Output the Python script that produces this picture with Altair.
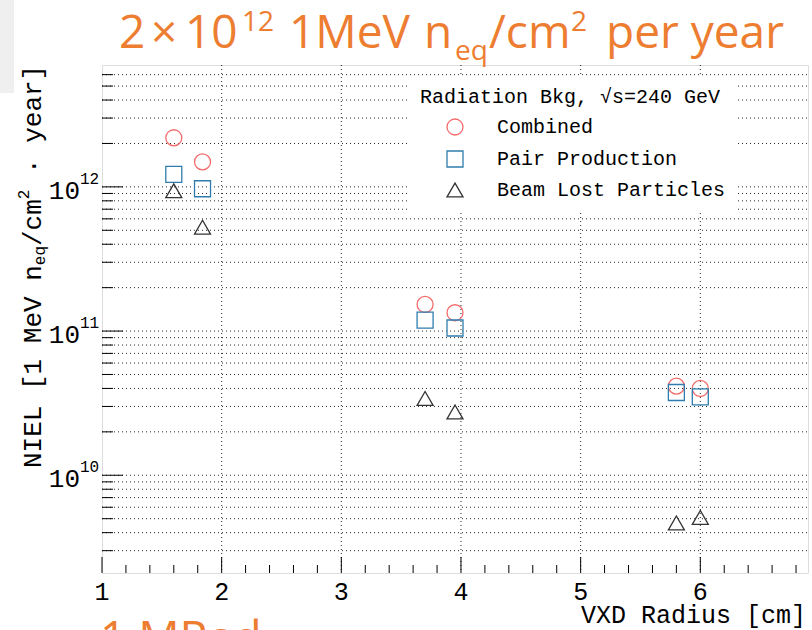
import altair as alt
import pandas as pd

# ---------------- data ----------------
radius = [1.6, 1.84, 3.7, 3.95, 5.8, 6.0]
combined = [2.19e12, 1.49e12, 1.53e11, 1.34e11, 4.15e10, 4.0e10]
pair_production = [1.22e12, 0.97e12, 1.19e11, 1.05e11, 3.75e10, 3.5e10]
beam_lost = [0.94e12, 5.25e11, 3.41e10, 2.75e10, 4.67e9, 5.1e9]

series_names = ["Combined", "Pair Production", "Beam Lost Particles"]
series_shapes = ["circle", "square", "triangle-up"]
series_colors = ["#F46B6B", "#2E7DAE", "#333333"]

x_major = [1, 2, 3, 4, 5, 6]
x_labels = ["1", "2", "3", "4", "5", "6"]
x_grid = [2, 3, 4, 5, 6]
x_minor = [1.2, 1.4, 1.6, 1.8, 2.2, 2.4, 2.6, 2.8, 3.2, 3.4, 3.6, 3.8,
           4.2, 4.4, 4.6, 4.8, 5.2, 5.4, 5.6, 5.8, 6.2, 6.4, 6.6, 6.8]
y_decades = [1e10, 1e11, 1e12]
y_exponents = ["10", "11", "12"]
y_minor = [3e9, 4e9, 5e9, 6e9, 7e9, 8e9, 9e9,
           2e10, 3e10, 4e10, 5e10, 6e10, 7e10, 8e10, 9e10,
           2e11, 3e11, 4e11, 5e11, 6e11, 7e11, 8e11, 9e11,
           2e12, 3e12, 4e12, 5e12, 6e12]
y_grid = y_minor + y_decades

W, H = 706, 508
MONO = "Liberation Mono"
TFONT = "Open Sans"
ORANGE = "#ED7D31"

df = pd.DataFrame({
    "radius": radius * 3,
    "niel": combined + pair_production + beam_lost,
    "series": [series_names[0]] * 6 + [series_names[1]] * 6 + [series_names[2]] * 6,
})

xscale = alt.Scale(domain=[1, 6.9], nice=False, zero=False)
yscale = alt.Scale(type="log", domain=[2.1e9, 7e12], nice=False)

legend = alt.Legend(
    orient="none", legendX=308, legendY=12,
    title="Radiation Bkg, √s=240 GeV\u00a0\u00a0\u00a0",
    titleFont=MONO, titleFontSize=20, titleFontWeight="normal", titleColor="#000",
    titlePadding=10, titleLimit=600,
    labelFont=MONO, labelFontSize=20, labelColor="#000", labelLimit=600,
    symbolOffset=25, labelOffset=32, rowPadding=10, padding=10,
    fillColor="white", symbolSize=256, symbolStrokeWidth=1.3,
)

# dotted grid
grid_h = alt.Chart(pd.DataFrame({"v": y_grid})).mark_rule(
    color="#000", strokeWidth=1, strokeDash=[1, 3], opacity=0.85).encode(
    y=alt.Y("v:Q", scale=yscale, axis=None), x=alt.value(0), x2=alt.value(W))
grid_v = alt.Chart(pd.DataFrame({"v": x_grid})).mark_rule(
    color="#000", strokeWidth=1, strokeDash=[1, 3], opacity=0.85).encode(
    x=alt.X("v:Q", scale=xscale, axis=None), y=alt.value(0), y2=alt.value(H))

points = alt.Chart(df).mark_point(filled=False, size=256, strokeWidth=1.3, opacity=1).encode(
    x=alt.X("radius:Q", scale=xscale, axis=None),
    y=alt.Y("niel:Q", scale=yscale, axis=None),
    shape=alt.Shape("series:N", scale=alt.Scale(domain=series_names, range=series_shapes), legend=legend),
    color=alt.Color("series:N", scale=alt.Scale(domain=series_names, range=series_colors), legend=legend),
)

# inward ticks
xmaj = alt.Chart(pd.DataFrame({"v": x_major})).mark_rule(color="#000", strokeWidth=1).encode(
    x=alt.X("v:Q", scale=xscale, axis=None), y=alt.value(H - 16), y2=alt.value(H))
xmin = alt.Chart(pd.DataFrame({"v": x_minor})).mark_rule(color="#000", strokeWidth=1).encode(
    x=alt.X("v:Q", scale=xscale, axis=None), y=alt.value(H - 8), y2=alt.value(H))
ymaj = alt.Chart(pd.DataFrame({"v": y_decades})).mark_rule(color="#000", strokeWidth=1).encode(
    y=alt.Y("v:Q", scale=yscale, axis=None), x=alt.value(0), x2=alt.value(21))
ymin = alt.Chart(pd.DataFrame({"v": y_minor})).mark_rule(color="#000", strokeWidth=1).encode(
    y=alt.Y("v:Q", scale=yscale, axis=None), x=alt.value(0), x2=alt.value(11))

# x tick labels
xlab = alt.Chart(pd.DataFrame({"v": x_major, "t": x_labels})).mark_text(
    font=MONO, fontSize=25, align="center", baseline="middle", color="#000").encode(
    x=alt.X("v:Q", scale=xscale, axis=None), y=alt.value(H + 19), text="t:N")

# y tick labels 10^n
ylab_df = pd.DataFrame({"v": y_decades, "e": y_exponents})
ybase = alt.Chart(ylab_df).mark_text(font=MONO, fontSize=26, align="right", baseline="middle",
                                      dy=4, color="#000").encode(
    y=alt.Y("v:Q", scale=yscale, axis=None), x=alt.value(-22), text=alt.value("10"))
ysup = alt.Chart(ylab_df).mark_text(font=MONO, fontSize=16, align="left", baseline="middle",
                                     dy=-8, color="#000").encode(
    y=alt.Y("v:Q", scale=yscale, axis=None), x=alt.value(-22), text="e:N")

one = pd.DataFrame({"a": [0]})

def txt(s, x, y, size, font=MONO, color="#000", angle=0, baseline="middle", align="left"):
    kw = dict(font=font, fontSize=size, align=align, baseline=baseline, color=color)
    if angle:
        kw["angle"] = angle
    return alt.Chart(one).mark_text(**kw).encode(x=alt.value(x), y=alt.value(y), text=alt.value(s))

xtitle = txt("VXD Radius [cm]", W - 2, H + 50, 25, baseline="alphabetic", align="right")

# y-axis title pieces (rotated)
ytitle = [
    txt("NIEL [1 MeV n", -69, 403, 26, angle=270),
    txt("eq", -62, 200.2, 16, angle=270),
    txt("/cm", -69, 181.0, 26, angle=270),
    txt("2", -78, 134.2, 16, angle=270),
    txt("· year]", -69, 109.0, 26, angle=270),
]

def head(s, xpage, ypage, size):
    return txt(s, xpage - 102, ypage - 65, size, font=TFONT, color=ORANGE, baseline="alphabetic")

# slide headline pieces
title = [
    head("2", 119, 48, 46),
    head("×", 151, 48, 46),
    head("10", 185, 48, 46),
    head("12", 242, 31, 28),
    head("1MeV", 289, 48, 46),
    head("n", 424, 48, 46),
    head("eq", 455, 60, 28),
    head("/cm", 489, 48, 46),
    head("2", 571, 31, 28),
    head("per year", 606, 48, 46),
    head("1 MRad", 100, 654, 46),
]

gray = alt.Chart(one).mark_rect(color="#EFEFEF").encode(
    x=alt.value(-102), x2=alt.value(-88), y=alt.value(-65), y2=alt.value(28))

chart = alt.layer(gray, grid_h, grid_v, xmaj, xmin, ymaj, ymin, points, xlab, xtitle,
                  ybase, ysup, *ytitle, *title).properties(
    width=W, height=H,
    autosize=alt.AutoSizeParams(type="none"),
    padding={"left": 102, "top": 65, "right": 4, "bottom": 57},
).configure_view(stroke="#000", strokeWidth=1.3).configure(background="white")

chart.save("out.html", embed_options={"renderer": "svg", "actions": False})
